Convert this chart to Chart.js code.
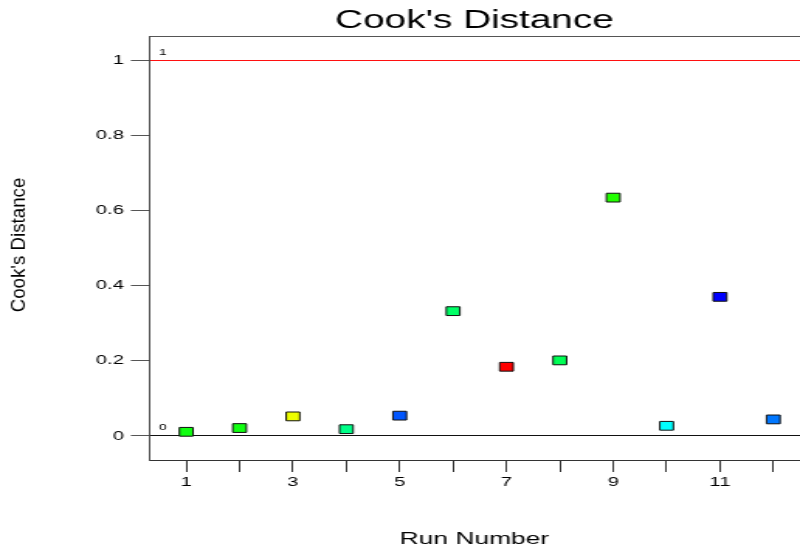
<!DOCTYPE html>
<html>
<head>
<meta charset="utf-8">
<script src="https://cdn.jsdelivr.net/npm/chart.js@4/dist/chart.umd.min.js"></script>
<style>
  html, body { margin: 0; padding: 0; background: #fff; overflow: hidden; }
  /* el grafico original esta estirado en horizontal, se dibuja angosto y se estira */
  #wrap { width: 516px; height: 550px; transform: scaleX(1.5504); transform-origin: 0 0; }
</style>
</head>
<body>
<div id="wrap"><canvas id="cookChart"></canvas></div>
<script>
// Datos
const runNumbers = [1, 2, 3, 4, 5, 6, 7, 8, 9, 10, 11, 12];
const cooksDistance = [0.011, 0.021, 0.052, 0.018, 0.054, 0.332, 0.184, 0.201, 0.634, 0.027, 0.370, 0.044];
const pointColors = ['#11ff11', '#11ff11', '#eeff00', '#00ff88', '#0055ff', '#00ff66',
                     '#ff0000', '#00ff55', '#22ff00', '#00ffff', '#0000ff', '#0077ff'];
const xTickValues = [1, 2, 3, 4, 5, 6, 7, 8, 9, 10, 11, 12];
const xTickLabels = ['1', '', '3', '', '5', '', '7', '', '9', '', '11', ''];
const yTickValues = [0, 0.2, 0.4, 0.6, 0.8, 1];
const yTickLabels = ['0', '0.2', '0.4', '0.6', '0.8', '1'];
// lineas de referencia (limite y cero)
const refValues = [1, 0];
const refColors = ['#ff1010', '#111111'];
const refLabels = ['1', '0'];

const FONT = "'Liberation Sans', Arial, sans-serif";

const puntos = runNumbers.map((r, i) => ({ x: r, y: cooksDistance[i] }));

// titulo del eje Y comprimido y etiquetas chicas de las lineas
const extrasPlugin = {
    id: 'extras',
    afterDraw(chart) {
        const ctx = chart.ctx;
        const yScale = chart.scales.y;
        const area = chart.chartArea;
        ctx.save();
        ctx.fillStyle = '#000';
        ctx.font = '9px ' + FONT;
        ctx.textAlign = 'center';
        ctx.textBaseline = 'middle';
        refValues.forEach((v, i) => {
            ctx.fillText(refLabels[i], area.left + 9, yScale.getPixelForValue(v) - 8);
        });
        ctx.translate(12.3, (area.top + area.bottom) / 2 - 3);
        ctx.rotate(-Math.PI / 2);
        ctx.scale(1.04, 0.7);
        ctx.font = '18px ' + FONT;
        ctx.fillText("Cook's Distance", 0, 0);
        ctx.restore();
    }
};

const sinPadding = (s) => { s.paddingLeft = 0; s.paddingRight = 0; };

const cookConfig = {
    type: 'scatter',
    data: {
        datasets: [{
            data: puntos,
            pointStyle: 'rect',
            pointRadius: 6.2,
            pointHoverRadius: 6.2,
            backgroundColor: pointColors,
            borderColor: '#111',
            borderWidth: 1
        }]
    },
    options: {
        responsive: true,
        maintainAspectRatio: false,
        animation: false,
        events: [],
        layout: { padding: 0, autoPadding: false },
        plugins: {
            legend: { display: false },
            tooltip: { enabled: false },
            title: {
                display: true,
                text: "Cook's Distance",
                fullSize: false,
                color: '#000',
                font: { family: FONT, size: 25, weight: 'normal', lineHeight: 1.2 },
                padding: { top: 6, bottom: 0 }
            }
        },
        scales: {
            x: {
                type: 'linear',
                position: 'bottom',
                min: 0.3,
                max: 12.5,
                afterBuildTicks: (s) => { s.ticks = xTickValues.map(v => ({ value: v })); },
                afterFit: (s) => { s.height = 90; sinPadding(s); },
                grid: { drawOnChartArea: false, tickLength: 12, tickColor: '#333' },
                border: { display: true, color: '#333', width: 1 },
                ticks: {
                    autoSkip: false,
                    maxRotation: 0,
                    padding: 3,
                    color: '#000',
                    font: { family: FONT, size: 13, lineHeight: 1.2 },
                    callback: (v) => xTickLabels[xTickValues.indexOf(v)]
                },
                title: {
                    display: true,
                    text: 'Run Number',
                    color: '#000',
                    font: { family: FONT, size: 17, lineHeight: 1 },
                    padding: { top: 0, bottom: 2 }
                }
            },
            xTop: {
                type: 'linear',
                position: 'top',
                min: 0.3,
                max: 12.5,
                afterFit: (s) => { s.height = 0; sinPadding(s); },
                grid: { display: false, drawTicks: false, tickLength: 0 },
                ticks: { display: false },
                border: { display: true, color: '#555', width: 1 }
            },
            y: {
                type: 'linear',
                min: -0.064,
                max: 1.064,
                afterBuildTicks: (s) => { s.ticks = yTickValues.map(v => ({ value: v })); },
                afterFit: (s) => { s.width = 96; },
                grid: {
                    drawOnChartArea: true,
                    tickLength: 11.6,
                    tickColor: '#555',
                    color: (c) => {
                        const k = refValues.indexOf(c.tick ? c.tick.value : NaN);
                        return k >= 0 ? refColors[k] : 'rgba(0,0,0,0)';
                    }
                },
                border: { display: true, color: '#444', width: 1 },
                ticks: {
                    padding: 4.5,
                    color: '#000',
                    font: { family: FONT, size: 13 },
                    callback: (v) => yTickLabels[yTickValues.indexOf(v)]
                }
            }
        }
    },
    plugins: [extrasPlugin]
};

const cookChart = new Chart(
    document.getElementById('cookChart'),
    cookConfig
);
</script>
</body>
</html>
